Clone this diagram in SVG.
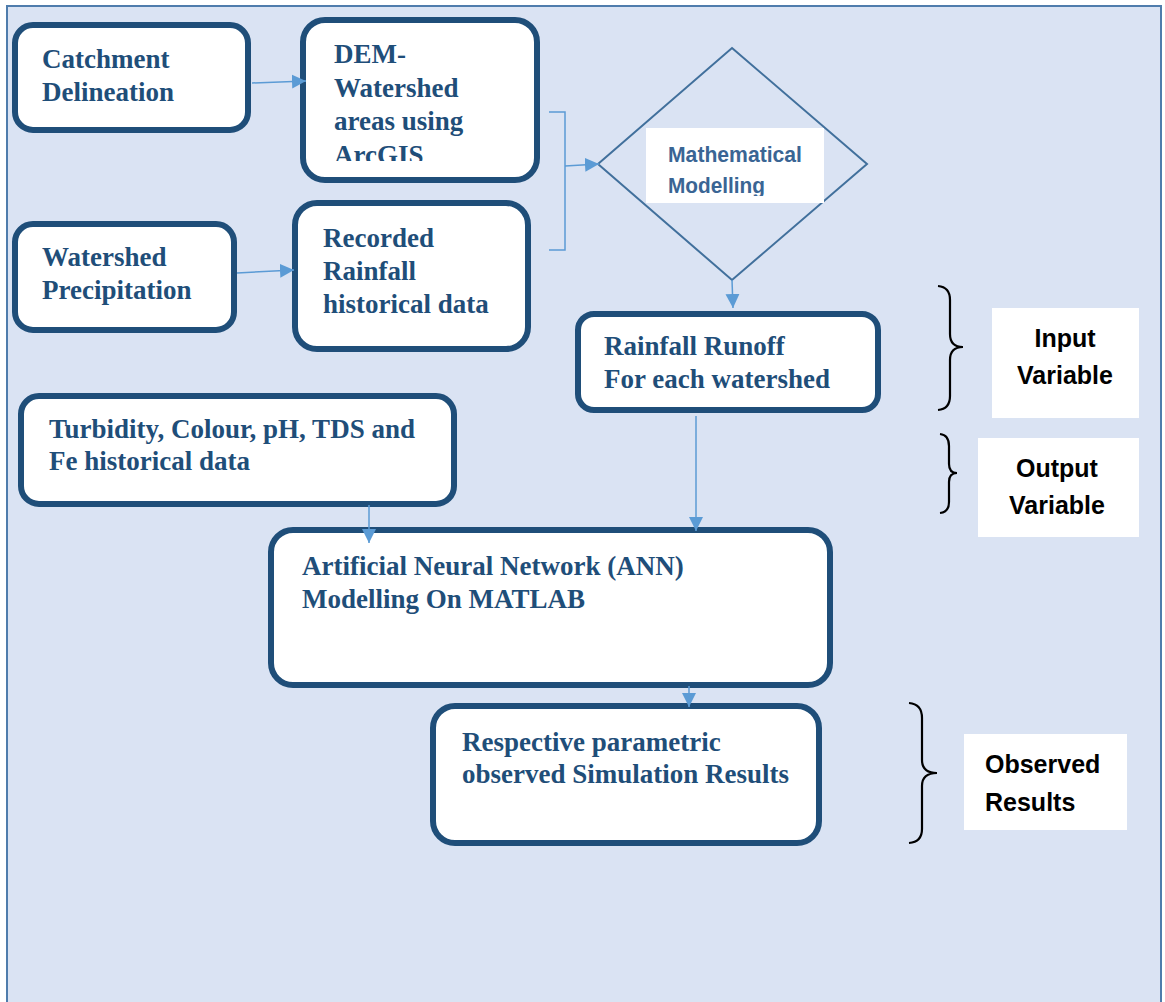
<svg xmlns="http://www.w3.org/2000/svg" width="1165" height="1002" viewBox="0 0 1165 1002">
<style>
.box{fill:#ffffff;stroke:#1f4e79;stroke-width:6}
.t{font-family:"Liberation Serif","Times New Roman",serif;font-weight:bold;font-size:27px;fill:#1f4e79}
.lbl{font-family:"Liberation Sans",Arial,sans-serif;font-weight:bold;font-size:25px;fill:#000000}
.conn{fill:none;stroke:#5b9bd5;stroke-width:1.5}
.brace{fill:none;stroke:#000000;stroke-width:2.2}
</style>
<defs>
<marker id="ah" markerUnits="userSpaceOnUse" markerWidth="15" markerHeight="15" refX="14" refY="7" orient="auto">
<path d="M0,0 L14,7 L0,14 Z" fill="#5b9bd5"/>
</marker>
<clipPath id="clipDem"><rect x="300" y="20" width="240" height="141"/></clipPath>
<clipPath id="clipMath"><rect x="646" y="128" width="178" height="68"/></clipPath>
</defs>
<rect x="7" y="6" width="1154" height="1010" fill="#dae3f3" stroke="#4f7cac" stroke-width="2"/>

<g id="catchment">
<rect class="box" x="15" y="25" width="233" height="105" rx="18"/>
<text class="t" x="42" y="68">Catchment</text>
<text class="t" x="42" y="101">Delineation</text>
</g>
<g id="dem">
<rect class="box" x="303" y="20" width="234" height="160" rx="22"/>
<g clip-path="url(#clipDem)">
<text class="t" x="334" y="63">DEM-</text>
<text class="t" x="334" y="97">Watershed</text>
<text class="t" x="334" y="130">areas using</text>
<text class="t" x="334" y="164">ArcGIS</text>
</g>
</g>
<g id="precip">
<rect class="box" x="15" y="224" width="219" height="106" rx="18"/>
<text class="t" x="42" y="266">Watershed</text>
<text class="t" x="42" y="299">Precipitation</text>
</g>
<g id="recorded">
<rect class="box" x="295" y="203" width="233" height="146" rx="22"/>
<text class="t" x="323" y="247">Recorded</text>
<text class="t" x="323" y="280">Rainfall</text>
<text class="t" x="323" y="313">historical data</text>
</g>
<g id="math">
<polygon points="732,48 867,164 732,280 598,164" fill="none" stroke="#41709c" stroke-width="2"/>
<rect x="646" y="128" width="178" height="75" fill="#ffffff"/>
<g clip-path="url(#clipMath)">
<text x="668" y="162" font-family="Liberation Sans,Arial,sans-serif" font-weight="bold" font-size="22" fill="#3a6594" textLength="134" lengthAdjust="spacingAndGlyphs">Mathematical</text>
<text x="668" y="193" font-family="Liberation Sans,Arial,sans-serif" font-weight="bold" font-size="22" fill="#3a6594" textLength="97" lengthAdjust="spacingAndGlyphs">Modelling</text>
</g>
</g>
<g id="runoff">
<rect class="box" x="578" y="314" width="300" height="96" rx="16"/>
<text class="t" x="604" y="355">Rainfall Runoff</text>
<text class="t" x="604" y="388">For each watershed</text>
</g>
<g id="turbidity">
<rect class="box" x="21" y="396" width="433" height="108" rx="18"/>
<text class="t" x="49" y="438">Turbidity, Colour, pH, TDS and</text>
<text class="t" x="49" y="470">Fe historical data</text>
</g>
<g id="ann">
<rect class="box" x="271" y="530" width="559" height="155" rx="22"/>
<text class="t" x="302" y="575">Artificial Neural Network (ANN)</text>
<text class="t" x="302" y="608">Modelling On MATLAB</text>
</g>
<g id="results">
<rect class="box" x="433" y="706" width="386" height="137" rx="22"/>
<text class="t" x="462" y="751">Respective parametric</text>
<text class="t" x="462" y="783">observed Simulation Results</text>
</g>
<g id="input-label">
<path class="brace" d="M938,286 Q950,287 950,300 L950,334 Q950,347 963,347 Q950,347 950,360 L950,396 Q950,409 938,410"/>
<rect x="992" y="308" width="147" height="110" fill="#ffffff"/>
<text class="lbl" x="1065" y="347" text-anchor="middle">Input</text>
<text class="lbl" x="1065" y="384" text-anchor="middle">Variable</text>
</g>
<g id="output-label">
<path class="brace" d="M940,434 Q949,435 949,446 L949,464 Q949,473 957,473 Q949,473 949,482 L949,502 Q949,512 940,513"/>
<rect x="978" y="438" width="161" height="99" fill="#ffffff"/>
<text class="lbl" x="1057" y="477" text-anchor="middle">Output</text>
<text class="lbl" x="1057" y="514" text-anchor="middle">Variable</text>
</g>
<g id="observed-label">
<path class="brace" d="M909,703 Q922,704 922,718 L922,760 Q922,773 937,773 Q922,773 922,786 L922,829 Q922,842 909,843"/>
<rect x="964" y="734" width="163" height="96" fill="#ffffff"/>
<text class="lbl" x="985" y="773">Observed</text>
<text class="lbl" x="985" y="811">Results</text>
</g>

<g id="connectors">
<line class="conn" x1="252" y1="83" x2="306" y2="81" marker-end="url(#ah)"/>
<line class="conn" x1="237" y1="273" x2="294" y2="270" marker-end="url(#ah)"/>
<polyline class="conn" points="549,112 565,112 565,250 549,250"/>
<line class="conn" x1="565" y1="166" x2="599" y2="164" marker-end="url(#ah)"/>
<line class="conn" x1="732" y1="280" x2="733" y2="308" marker-end="url(#ah)"/>
<line class="conn" x1="696" y1="416" x2="696" y2="531" marker-end="url(#ah)"/>
<line class="conn" x1="369" y1="505" x2="369" y2="543" marker-end="url(#ah)"/>
<line class="conn" x1="689" y1="686" x2="689" y2="707" marker-end="url(#ah)"/>
</g>
</svg>
